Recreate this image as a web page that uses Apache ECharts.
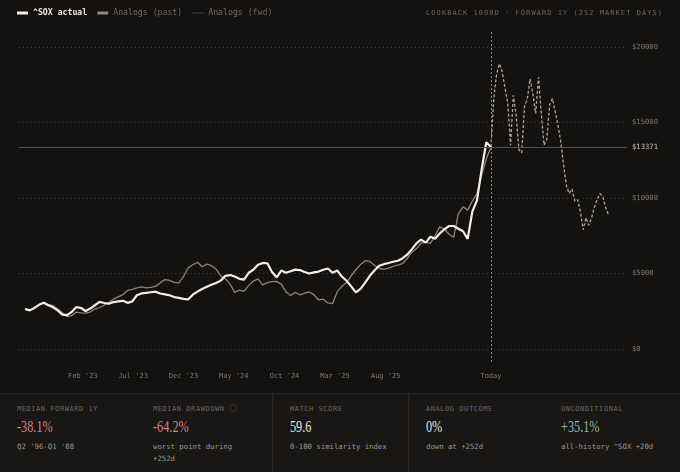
<!DOCTYPE html>
<html><head><meta charset="utf-8">
<script src="https://cdn.jsdelivr.net/npm/echarts@6/dist/echarts.min.js"></script>
<style>
html,body{margin:0;padding:0;background:#141211;}
#wrap{position:relative;width:680px;height:472px;overflow:hidden;background:#141211;}
#chart{position:absolute;left:0;top:0;width:680px;height:472px;}
#hdr{position:absolute;right:17px;top:8px;font-family:'DejaVu Sans Mono',monospace;font-size:7px;line-height:10px;letter-spacing:1.05px;color:#6b6661;white-space:nowrap;}
#panel{position:absolute;left:0;top:393px;width:680px;height:79px;background:#191715;border-top:1px solid #2a2624;display:flex;}
.cell{width:136px;height:79px;box-sizing:border-box;padding:11px 0 0 17px;}
.div{border-left:1px solid #2a2624;}
.lab{font-family:'DejaVu Sans Mono',monospace;font-size:7px;line-height:9px;letter-spacing:0.55px;color:#6d6863;white-space:nowrap;}
.val{font-family:'Liberation Serif',serif;font-size:17px;line-height:20px;margin-top:3px;transform:scaleX(0.72);transform-origin:left center;white-space:nowrap;-webkit-font-smoothing:antialiased;}
.sub{font-family:'DejaVu Sans Mono',monospace;font-size:7.3px;line-height:12px;margin-top:4px;color:#9d978f;white-space:nowrap;}
.neg{color:#c8868c;}.pos{color:#93b5a3;}.neu{color:#e9e4db;}
.info{display:inline-block;width:6px;height:6px;border:1px solid #3a3633;border-radius:50%;vertical-align:middle;margin-left:5px;margin-top:-2px;}
</style></head>
<body>
<div id="wrap">
<div id="chart"></div>
<div id="hdr">LOOKBACK 1000D · FORWARD 1Y (252 MARKET DAYS)</div>
<div id="panel">
 <div class="cell"><div class="lab">MEDIAN FORWARD 1Y</div><div class="val neg">-38.1%</div><div class="sub">Q2 '96-Q1 '08</div></div>
 <div class="cell"><div class="lab">MEDIAN DRAWDOWN<span class="info"></span></div><div class="val neg">-64.2%</div><div class="sub">worst point during<br>+252d</div></div>
 <div class="cell div"><div class="lab">MATCH SCORE</div><div class="val neu">59.6</div><div class="sub">0-100 similarity index</div></div>
 <div class="cell div"><div class="lab">ANALOG OUTCOME</div><div class="val neu">0%</div><div class="sub">down at +252d</div></div>
 <div class="cell"><div class="lab">UNCONDITIONAL</div><div class="val pos">+35.1%</div><div class="sub">all-history ^SOX +20d</div></div>
</div>
</div>
<script>
const MONO = "'DejaVu Sans Mono', monospace";
const STEP = 10;        // trading days between lookback samples
const FWD_STEP = 6;     // trading days between forward samples
const TODAY = 1000;     // lookback length in trading days
const currentPrice = 13371;

const actualVals = [2650,2560,2720,2930,3060,2900,2760,2560,2280,2250,
  2450,2780,2720,2520,2680,2900,3120,3050,3000,3110,
  3160,3190,3060,3150,3560,3680,3720,3760,3800,3680,
  3620,3560,3440,3390,3320,3280,3600,3800,3980,4120,
  4250,4380,4530,4850,4900,4800,4650,4600,5050,5250,
  5580,5700,5680,5100,4750,5200,5050,5150,5260,5230,
  5100,5000,5080,5130,5250,5330,5050,5200,4800,4520,
  4150,3750,3980,4400,4850,5200,5520,5620,5700,5780,
  5850,6000,6250,6600,7000,7250,7050,7440,7300,7650,
  7930,8150,8150,7970,7800,7300,9100,9850,11900,13700,
  13371];

const pastVals = [2650,2560,2720,2950,3080,2950,2880,2650,2400,2150,
  2200,2450,2400,2380,2450,2650,2750,2900,3100,3300,
  3450,3600,3880,3950,4050,4120,4050,4080,4150,4380,
  4600,4550,4420,4380,4800,5380,5580,5750,5450,5620,
  5520,5300,4850,4650,4300,3750,3900,3820,4200,4500,
  4650,4250,4400,4460,4480,4300,3800,3550,3750,3580,
  3700,3780,3600,3250,3300,3050,3000,3800,4150,4400,
  4850,5250,5600,5850,5800,5550,5350,5280,5360,5470,
  5560,5650,5990,6400,6650,7000,7100,7000,7500,8100,
  7950,7600,7400,8950,9420,9200,9800,10300,11500,12600,
  13371];

const fwdVals = [13371,16600,18200,18900,18400,17300,16300,13500,16800,15500,
  13200,13000,16100,16550,17900,16900,15600,18000,15600,13500,
  13900,16200,16600,15700,14800,13700,12150,10800,10300,10600,
  9800,9900,9100,7900,8700,8200,8700,9400,9900,10300,
  10100,9400,8900];

const xTickDays = [124,232,340,448,557,665,774,1000];
const xTickLabels = ["Feb '23","Jul '23","Dec '23","May '24","Oct '24","Mar '25","Aug '25","Today"];
const yTicks = [0,5000,10000,15000,20000];

const chart = echarts.init(document.getElementById('chart'), null, {renderer:'canvas'});
chart.setOption({
  animation:false,
  backgroundColor:'#141211',
  textStyle:{fontFamily:MONO},
  legend:{
    left:17, top:9, padding:0, itemWidth:11, itemHeight:3, itemGap:10,
    textStyle:{fontFamily:MONO, fontSize:8.2, color:'#6e6964'},
    data:[
      {name:'^SOX actual', icon:'rect', itemStyle:{color:'#f3efe8'}, textStyle:{color:'#ece8e0', fontWeight:'bold'}},
      {name:'Analogs (past)', icon:'rect', itemStyle:{color:'#8b857f'}},
      {name:'Analogs (fwd)', icon:'path://M0,1h1.4v1h-1.4zM2.4,1h1.4v1h-1.4zM4.8,1h1.4v1h-1.4zM7.2,1h1.4v1h-1.4zM9.6,1h1.4v1h-1.4zM0,0h0.01v3h-0.01z', itemStyle:{color:'#6e6964'}}
    ]
  },
  grid:{left:19, right:53, top:32, bottom:110, outerBoundsMode:'none'},
  xAxis:{
    type:'value', min:-13, max:1292,
    axisLine:{show:false},
    axisTick:{show:false, customValues:xTickDays},
    splitLine:{show:false},
    axisLabel:{customValues:xTickDays, formatter:v=>xTickLabels[xTickDays.indexOf(v)],
      color:'#7f7a74', fontSize:7, fontFamily:MONO, margin:11}
  },
  yAxis:{
    type:'value', position:'right', min:-860, max:21000,
    axisLine:{show:false},
    axisTick:{show:false, customValues:yTicks},
    axisLabel:{customValues:yTicks, formatter:v=>'$'+v, color:'#7f7a74', fontSize:7.2, fontFamily:MONO, margin:5},
    splitLine:{show:true, lineStyle:{color:'#3d3936', width:1, type:[1,3]}}
  },
  series:[
    {name:'Analogs (past)', type:'line', z:2, symbol:'none', showSymbol:false,
     data:pastVals.map((v,i)=>[i*STEP, v]),
     lineStyle:{color:'#8b857f', width:1.3}, itemStyle:{color:'#8b857f'}},
    {name:'Analogs (fwd)', type:'line', z:3, symbol:'none', showSymbol:false,
     data:fwdVals.map((v,j)=>[TODAY+j*FWD_STEP, v]),
     lineStyle:{color:'#aca69e', width:1.3, type:[3,2]}, itemStyle:{color:'#aca69e'},
     markLine:{silent:true, symbol:'none', label:{show:false},
       lineStyle:{color:'#8a8580', width:1, type:[2,2]},
       data:[{xAxis:TODAY}]}},
    {name:'^SOX actual', type:'line', z:4, symbol:'none', showSymbol:false,
     data:actualVals.map((v,i)=>[i*STEP, v]),
     lineStyle:{color:'#f3efe8', width:2.2}, itemStyle:{color:'#f3efe8'},
     markLine:{silent:true, symbol:'none',
       lineStyle:{color:'#57524d', width:1, type:'solid'},
       label:{show:true, position:'end', distance:5, formatter:'$'+currentPrice, color:'#cfc9c1', fontSize:7.2, fontFamily:MONO},
       data:[{yAxis:currentPrice}]}}
  ]
});
</script>
</body></html>
